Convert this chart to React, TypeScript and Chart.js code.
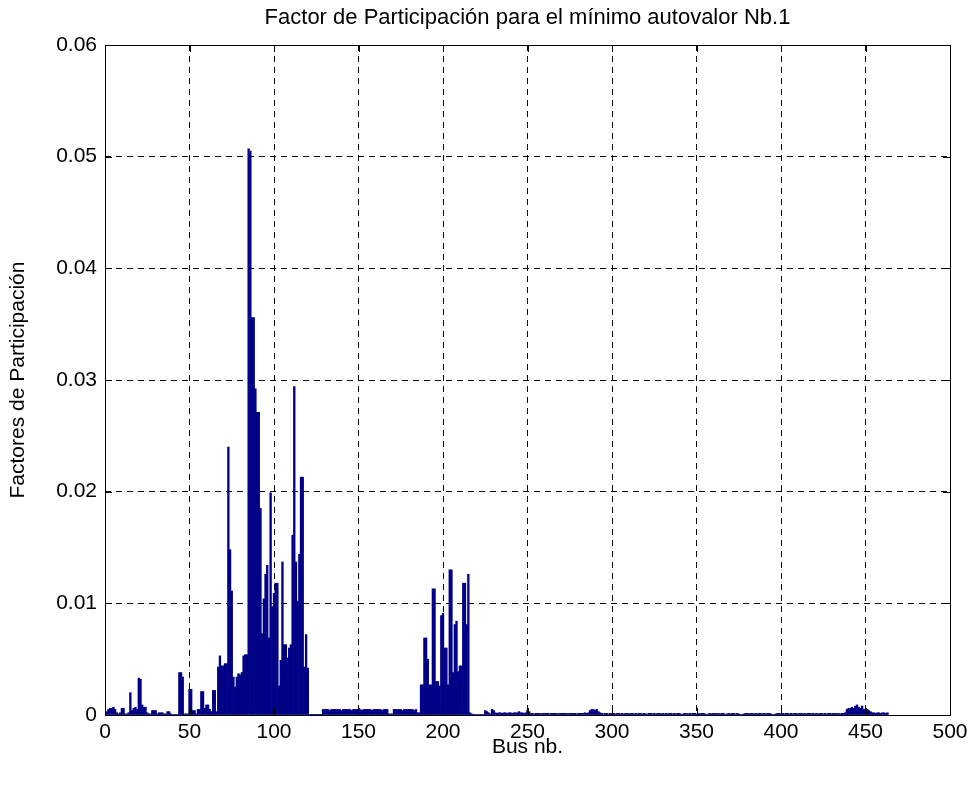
import { useEffect, useRef } from "react";
import { Chart, registerables } from "chart.js";

Chart.register(...registerables);

const TITLE = "Factor de Participación para el mínimo autovalor Nb.1";
const X_LABEL = "Bus nb.";
const Y_LABEL = "Factores de Participación";

const xTickValues = [0, 50, 100, 150, 200, 250, 300, 350, 400, 450, 500];
const xTickLabels = ["0", "50", "100", "150", "200", "250", "300", "350", "400", "450", "500"];
const yTickValues = [0, 0.01, 0.02, 0.03, 0.04, 0.05, 0.06];
const yTickLabels = ["0", "0.01", "0.02", "0.03", "0.04", "0.05", "0.06"];

// Participation factor per bus, buses 1..463, split in blocks of consecutive buses
const factorsBus001to060 = [
  0.0003, 0.0005, 0.0006, 0.0006, 0.0007, 0.0005, 0.0002, 0.0001, 0.0002, 0.0006,
  0.0006, 0.0001, 0.0001, 0.0002, 0.0020, 0.0004, 0.0006, 0.0007, 0.0005, 0.0033,
  0.0032, 0.0009, 0.0007, 0.0007, 0.0002, 0.0001, 0.0001, 0.0004, 0.0004, 0.0004,
  0.0001, 0.0002, 0.0002, 0.0002, 0.0001, 0.0001, 0.0003, 0.0003, 0.0001, 0.00005,
  0.00005, 0.00005, 0.00005, 0.0038, 0.0038, 0.0034, 0.0001, 0.0001, 0.0001, 0.0023,
  0.0023, 0.0004, 0.0004, 0.0001, 0.0005, 0.0005, 0.0021, 0.0021, 0.0006, 0.0009,
];

const factorsBus061to120 = [
  0.0009, 0.0005, 0.0003, 0.0022, 0.0022, 0.0003, 0.0043, 0.0053, 0.0044, 0.0044,
  0.0046, 0.0046, 0.0240, 0.0148, 0.0111, 0.0034, 0.0025, 0.0034, 0.0037, 0.0036,
  0.0038, 0.0053, 0.0054, 0.0054, 0.0507, 0.0505, 0.0356, 0.0356, 0.0292, 0.0271,
  0.0271, 0.0185, 0.0073, 0.0104, 0.0126, 0.0134, 0.0069, 0.0199, 0.0097, 0.0109,
  0.0118, 0.0118, 0.0026, 0.0049, 0.0137, 0.0063, 0.0063, 0.0051, 0.0060, 0.0063,
  0.0161, 0.0294, 0.0137, 0.0102, 0.0144, 0.0213, 0.0213, 0.0043, 0.0072, 0.0042,
];

const factorsBus121to186 = [
  0.00003, 0.00003, 0.00003, 0.00003, 0.00003, 0.00003, 0.00003, 0.00003,
  0.0005, 0.0005, 0.0005, 0.0005, 0.0004, 0.0005, 0.0005, 0.0005, 0.0005, 0.0005,
  0.0005, 0.0004, 0.0005, 0.0005, 0.0005, 0.0005, 0.0005, 0.0004, 0.0005, 0.0005,
  0.0005, 0.0005, 0.0005, 0.0004, 0.0005, 0.0005, 0.0005, 0.0005, 0.0005, 0.0004,
  0.0005, 0.0005, 0.0005, 0.0005, 0.0005, 0.0004, 0.0005, 0.0005, 0.0005,
  0.0001, 0.0001, 0.0001,
  0.0005, 0.0005, 0.0005, 0.0005, 0.0005, 0.0004, 0.0005, 0.0005, 0.0005, 0.0005,
  0.0005, 0.0005, 0.0004, 0.0005, 0.0002, 0.0002,
];

const factorsBus187to217 = [
  0.0027, 0.0027, 0.0069, 0.0069, 0.0050, 0.0027, 0.0027, 0.0113, 0.0113, 0.0030,
  0.0030, 0.0026, 0.0089, 0.0091, 0.0060, 0.0060, 0.0027, 0.0130, 0.0130, 0.0038,
  0.0081, 0.0084, 0.0039, 0.0044, 0.0044, 0.0118, 0.0118, 0.0081, 0.0126, 0.0002,
  0.0001,
];

const factorsBus218to300 = [
  0.00005, 0.00005, 0.00005, 0.00005, 0.00005, 0.00005, 0.00005,
  0.0004, 0.0003, 0.0002, 0.0001, 0.0005, 0.0004,
  0.0002, 0.00015, 0.0002, 0.0002, 0.00015, 0.0002, 0.0002, 0.00015, 0.0002, 0.0002,
  0.00015, 0.0002, 0.0002, 0.0002,
  0.0003, 0.0002, 0.0002, 0.00015, 0.0002, 0.0004, 0.0003,
  0.00015, 0.00015, 0.0001, 0.00015, 0.00015, 0.00015, 0.0001, 0.00015, 0.00015, 0.00015,
  0.00015, 0.0001, 0.00015, 0.00015, 0.00015, 0.00015, 0.0001, 0.00015, 0.00015, 0.00015,
  0.00015, 0.00015, 0.0001, 0.00015, 0.00015, 0.00015, 0.00015, 0.0001, 0.00015, 0.00015,
  0.00015, 0.00015, 0.0002, 0.00015, 0.0002,
  0.0004, 0.0005, 0.0005, 0.0004, 0.0005, 0.0003, 0.0002,
  0.00015, 0.0001, 0.00015, 0.00015, 0.0001, 0.00015, 0.00015,
];

const factorsBus301to380 = [
  0.00015, 0.0001, 0.00015, 0.00015, 0.0001, 0.00015, 0.0001, 0.00015, 0.00015, 0.0001,
  0.00015, 0.00015, 0.0001, 0.00015, 0.0001, 0.00015, 0.00015, 0.0001, 0.00015, 0.0001,
  0.0001, 0.00015, 0.00015, 0.0001, 0.00015, 0.0001, 0.00015, 0.00015, 0.0001, 0.00015,
  0.0001, 0.00015, 0.0001, 0.00015, 0.00015, 0.0001, 0.00015, 0.0001, 0.00015, 0.00015,
  0.00005, 0.0001, 0.00015, 0.00015, 0.0001, 0.00015, 0.0001, 0.00015, 0.00015, 0.0001,
  0.00015, 0.0001, 0.00015, 0.00015, 0.0001, 0.00005, 0.0001, 0.00015, 0.0001, 0.00015,
  0.00015, 0.0001, 0.00015, 0.0001, 0.00015, 0.00015, 0.00005, 0.0001, 0.00015, 0.0001,
  0.00015, 0.00015, 0.0001, 0.00015, 0.0001, 0.00005, 0.00005, 0.0001, 0.00015, 0.00015,
];

const factorsBus381to463 = [
  0.0001, 0.00015, 0.00015, 0.0001, 0.00015, 0.0001, 0.00015, 0.00015, 0.0001, 0.00015,
  0.0001, 0.00015, 0.00015, 0.0001, 0.00005, 0.00005, 0.0001, 0.00015, 0.00015, 0.0001,
  0.00015, 0.0001, 0.00015, 0.00015, 0.0001, 0.00015, 0.0001, 0.00015, 0.00015, 0.0001,
  0.00015, 0.00015, 0.0001, 0.00015, 0.0001, 0.00015, 0.00015, 0.0001, 0.00015, 0.0001,
  0.00015, 0.0001, 0.00015, 0.00015, 0.0001, 0.00015, 0.0001, 0.00015, 0.00015, 0.0001,
  0.00015, 0.00015, 0.0001, 0.00015, 0.0001, 0.00015, 0.00015, 0.0002,
  0.0005, 0.0006, 0.0006, 0.0007, 0.0006, 0.0008, 0.0009, 0.0007, 0.0006, 0.0008,
  0.0005, 0.0004, 0.0005, 0.0004, 0.0003,
  0.0002, 0.0002, 0.00015, 0.0002, 0.0002, 0.00015, 0.0002, 0.0002, 0.00015, 0.0002,
];

const participation = [
  ...factorsBus001to060,
  ...factorsBus061to120,
  ...factorsBus121to186,
  ...factorsBus187to217,
  ...factorsBus218to300,
  ...factorsBus301to380,
  ...factorsBus381to463,
];

const FONT = '"Liberation Sans", Arial, Helvetica, sans-serif';

// Closed axes box with inward tick marks on all four sides, plus the title centred over the axes
const boxAndTicks = {
  id: "boxAndTicks",
  afterDraw(chart: any) {
    const { ctx, chartArea, scales } = chart;
    const { left, right, top, bottom } = chartArea;
    const tick = 7;
    ctx.save();
    ctx.strokeStyle = "#000";
    ctx.lineWidth = 1;
    ctx.setLineDash([]);
    ctx.beginPath();
    for (const v of xTickValues) {
      const x = Math.round(scales.x.getPixelForValue(v)) + 0.5;
      ctx.moveTo(x, bottom);
      ctx.lineTo(x, bottom - tick);
      ctx.moveTo(x, top);
      ctx.lineTo(x, top + tick);
    }
    for (const v of yTickValues) {
      const y = Math.round(scales.y.getPixelForValue(v)) + 0.5;
      ctx.moveTo(left, y);
      ctx.lineTo(left + tick, y);
      ctx.moveTo(right, y);
      ctx.lineTo(right - tick, y);
    }
    ctx.stroke();
    ctx.strokeRect(
      Math.round(left) + 0.5,
      Math.round(top) + 0.5,
      Math.round(right - left),
      Math.round(bottom - top)
    );

    ctx.fillStyle = "#000";
    ctx.font = `22px ${FONT}`;
    ctx.textAlign = "center";
    ctx.textBaseline = "middle";
    ctx.fillText(TITLE, (left + right) / 2, 18);
    ctx.restore();
  },
};

export default function App() {
  const canvasRef = useRef<HTMLCanvasElement | null>(null);

  useEffect(() => {
    if (!canvasRef.current) return;
    const points = participation.map((v, i) => ({ x: i + 1, y: v }));
    const chart = new Chart(canvasRef.current, {
      type: "bar",
      data: {
        datasets: [
          {
            data: points,
            backgroundColor: "#000087",
            borderWidth: 0,
            barPercentage: 1,
            categoryPercentage: 1,
          },
        ],
      },
      options: {
        responsive: false,
        animation: false,
        layout: { padding: { left: 0, right: 28, top: 45, bottom: 0 } },
        plugins: {
          legend: { display: false },
          tooltip: { enabled: false },
          title: { display: false },
        },
        scales: {
          x: {
            type: "linear",
            min: 0,
            max: 500,
            offset: false,
            afterBuildTicks: (scale: any) => {
              scale.ticks = xTickValues.map((v) => ({ value: v }));
            },
            afterFit: (scale: any) => {
              scale.height = 70;
            },
            ticks: {
              color: "#000",
              font: { family: FONT, size: 21 },
              padding: 5,
              maxRotation: 0,
              autoSkip: false,
              callback: (v: any) => xTickLabels[xTickValues.indexOf(Number(v))] ?? "",
            },
            grid: {
              offset: false,
              color: "#000",
              lineWidth: 1,
              drawTicks: false,
            },
            border: { display: false, dash: [6, 5] },
            title: {
              display: true,
              text: X_LABEL,
              color: "#000",
              font: { family: FONT, size: 21 },
              padding: { top: 0, bottom: 25 },
            },
          },
          y: {
            type: "linear",
            min: 0,
            max: 0.06,
            afterBuildTicks: (scale: any) => {
              scale.ticks = yTickValues.map((v) => ({ value: v }));
            },
            afterFit: (scale: any) => {
              scale.width = 105;
            },
            ticks: {
              color: "#000",
              font: { family: FONT, size: 21 },
              padding: 8,
              autoSkip: false,
              callback: (v: any) => {
                const idx = yTickValues.findIndex((t) => Math.abs(t - Number(v)) < 1e-9);
                return idx >= 0 ? yTickLabels[idx] : "";
              },
            },
            grid: {
              color: "#000",
              lineWidth: 1,
              drawTicks: false,
            },
            border: { display: false, dash: [6, 5] },
            title: {
              display: true,
              text: Y_LABEL,
              color: "#000",
              font: { family: FONT, size: 21 },
              padding: { top: 6, bottom: 0 },
            },
          },
        },
      },
      plugins: [boxAndTicks],
    } as any);
    return () => chart.destroy();
  }, []);

  return (
    <div style={{ position: "absolute", left: 0, top: 0, width: 978, height: 785, background: "#fff" }}>
      <canvas ref={canvasRef} width={978} height={785} style={{ display: "block" }} />
    </div>
  );
}
